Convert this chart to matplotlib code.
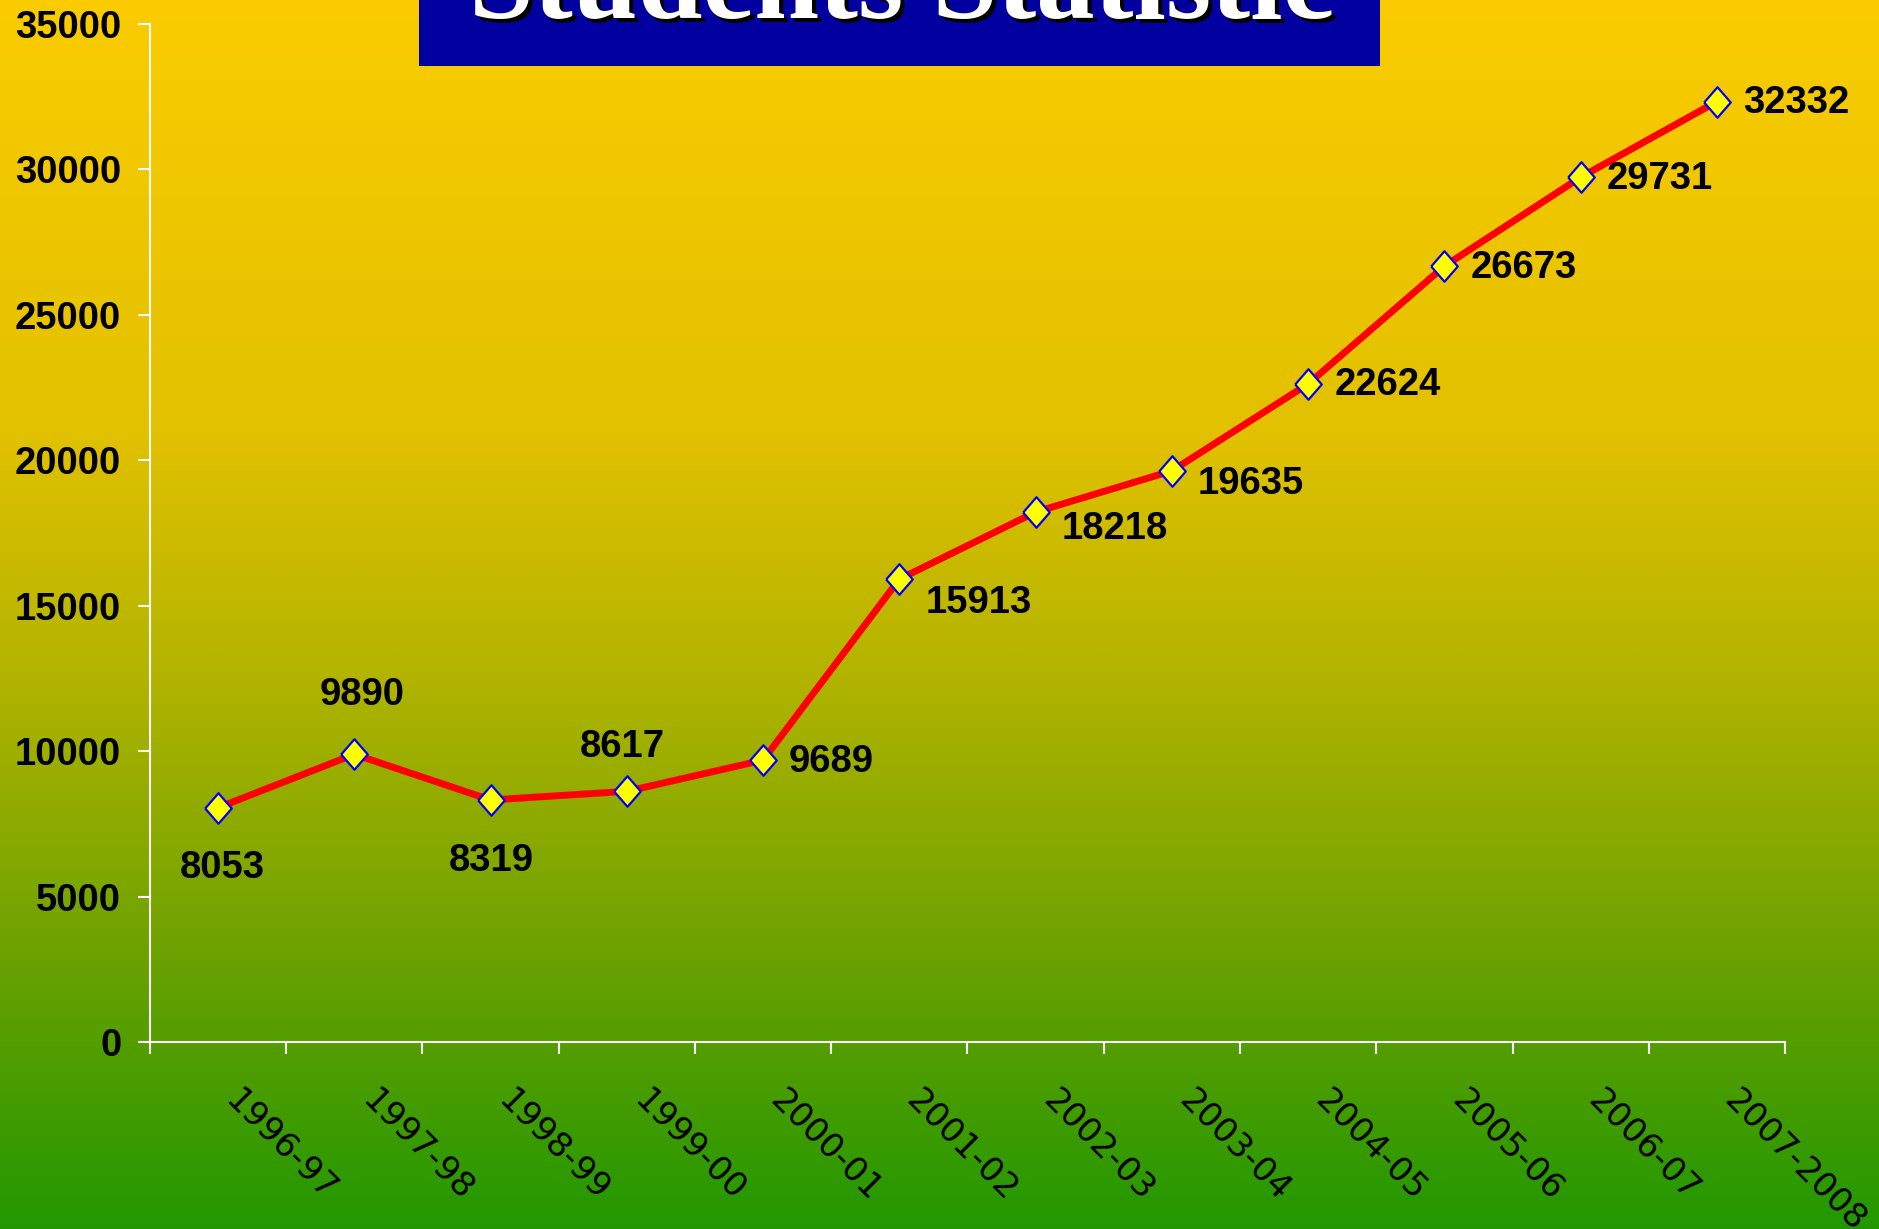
import numpy as np
import matplotlib
matplotlib.use('Agg')
import matplotlib.pyplot as plt
from matplotlib.patches import Rectangle
from matplotlib.colors import LinearSegmentedColormap
from matplotlib import transforms

# 数据
years = ['1996-97', '1997-98', '1998-99', '1999-00', '2000-01', '2001-02',
         '2002-03', '2003-04', '2004-05', '2005-06', '2006-07', '2007-2008']
students = [8053, 9890, 8319, 8617, 9689, 15913, 18218, 19635, 22624, 26673, 29731, 32332]
title = 'Students Statistic'

# 标签偏移 (像素) 与对齐
label_dx = [4, 8, 1, -5, 26, 26, 26, 26, 26, 26, 26, 26]
label_dy = [-60, 59, -61, 44, -2, -24, -17, -13, -1, -2, -2, -1]
label_ha = ['center'] * 4 + ['left'] * 8

fig = plt.figure(figsize=(18.79, 12.29), dpi=100)

# 渐变背景
bg = fig.add_axes([0, 0, 1, 1], zorder=-10)
cmap = LinearSegmentedColormap.from_list('bg', [
    (0.0, (250/255, 204/255, 0)),
    (0.35, (226/255, 193/255, 0)),
    (0.55, (178/255, 180/255, 0)),
    (0.8, (100/255, 160/255, 0)),
    (1.0, (34/255, 152/255, 0)),
])
grad = np.linspace(0, 1, 512).reshape(-1, 1)
bg.imshow(grad, aspect='auto', cmap=cmap, extent=[0, 1, 0, 1], origin='upper')
bg.axis('off')

ax = fig.add_axes([0.0798, 0.1522, 0.8702, 0.8283])
ax.patch.set_alpha(0)
x = np.arange(len(years))
diamond = [(-0.87, 0), (0, 1), (0.87, 0), (0, -1), (-0.87, 0)]
ax.plot(x, students, color='red', lw=5, marker=diamond, markersize=22,
        markerfacecolor='yellow', markeredgecolor='blue', markeredgewidth=1.6, zorder=3)

for i, v in enumerate(students):
    ax.annotate(str(v), (x[i], v), xytext=(label_dx[i], label_dy[i]), textcoords='offset pixels',
                ha=label_ha[i], va='center', fontsize=27.5, fontweight='bold',
                family='Liberation Sans', color='black')

ax.set_xlim(-0.5, len(years) - 0.5)
ax.set_ylim(0, 35000)
ax.set_yticks(np.arange(0, 35001, 5000))
ax.set_xticks(np.arange(-0.5, len(years), 1))
ax.set_xticklabels([])
ax.set_xticks(x, minor=True)
ax.set_xticklabels(years, minor=True, rotation=-45, ha='left', va='top',
                   rotation_mode='anchor', fontsize=24.5, family='DejaVu Sans')

for lab in ax.get_yticklabels():
    lab.set_fontsize(27.5)
    lab.set_fontweight('bold')
    lab.set_family('Liberation Sans')

ax.tick_params(axis='y', direction='out', length=8.6, width=1.5, color='white', pad=12)
ax.tick_params(axis='x', which='major', direction='out', length=8.6, width=1.5, color='white')
ax.tick_params(axis='x', which='minor', length=0, pad=30)
for s in ['top', 'right']:
    ax.spines[s].set_visible(False)
for s in ['left', 'bottom']:
    ax.spines[s].set_color('white')
    ax.spines[s].set_linewidth(1.5)

# x 标签右移 (tick_params 之后)
offset = transforms.ScaledTranslation(24 / 100, 0, fig.dpi_scale_trans)
for lab in ax.get_xticklabels(minor=True):
    lab.set_transform(lab.get_transform() + offset)

# 标题
fig.patches.append(Rectangle((0.223, 0.9463), 0.5114, 0.06, transform=fig.transFigure,
                             facecolor='#02009E', edgecolor='none', zorder=5))
fig.text(0.4796 + 4 / 1879, 0.9853 - 4 / 1229, title, ha='center', va='baseline',
         fontsize=84, fontweight='bold', family='Liberation Serif', color='black', zorder=6)
fig.text(0.4796, 0.9853, title, ha='center', va='baseline',
         fontsize=84, fontweight='bold', family='Liberation Serif', color='white', zorder=7)

fig.savefig('out.png', dpi=100)
